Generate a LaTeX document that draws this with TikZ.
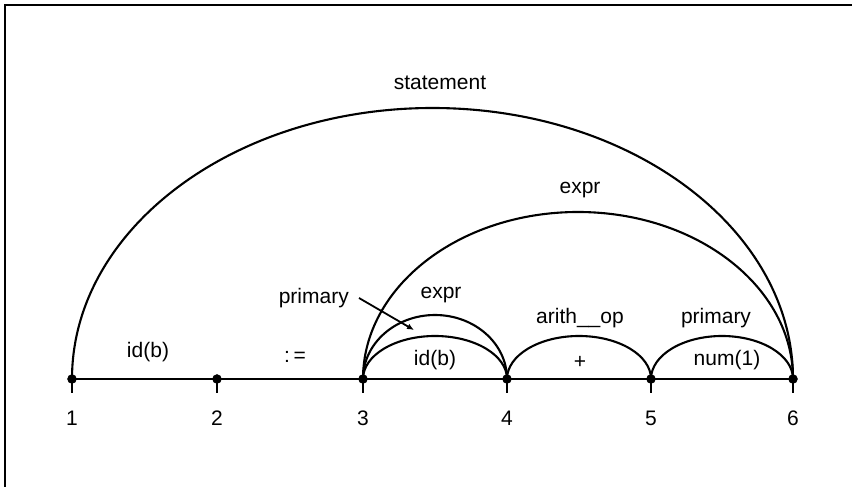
\documentclass[tikz,border=0pt]{standalone}
\usepackage{fontspec}
\setmainfont{Liberation Sans}
\usetikzlibrary{arrows.meta}
\begin{document}
\begin{tikzpicture}[x=1pt,y=1pt,
  lbl/.style={font=\fontsize{21}{24}\selectfont, inner sep=0pt},
  pt/.style={circle, fill=black, draw=black, minimum size=9pt, inner sep=0pt},
  arcline/.style={line width=2.1pt},
  tick/.style={line width=2.1pt}]
\useasboundingbox (0,0) rectangle (852,487);
% frame
\draw[line width=2pt] (5,0) -- (5,482) -- (852,482);
% points
\node[pt] (p1) at (72,108) {};
\node[pt] (p2) at (217,108) {};
\node[pt] (p3) at (363,108) {};
\node[pt] (p4) at (507,108) {};
\node[pt] (p5) at (651,108) {};
\node[pt] (p6) at (793,108) {};
\draw[arcline] (p1.center) -- (p6.center);
\foreach \i in {1,...,6} {
  \draw[tick] (p\i.center) -- ++(0,-14);
}
% numbers
\node[lbl] (n1) at (72,69) {1};
\node[lbl] (n2) at (217,69) {2};
\node[lbl] (n3) at (363,69) {3};
\node[lbl] (n4) at (507,69) {4};
\node[lbl] (n5) at (651,69) {5};
\node[lbl] (n6) at (793,69) {6};
% arcs
\draw[arcline] (p1.center) arc[start angle=180, end angle=0, x radius=360.5, y radius=271];
\draw[arcline] (p3.center) arc[start angle=180, end angle=0, x radius=215, y radius=167];
\draw[arcline] (p3.center) arc[start angle=180, end angle=0, x radius=72, y radius=64];
\draw[arcline] (p3.center) arc[start angle=180, end angle=0, x radius=72, y radius=43];
\draw[arcline] (p4.center) arc[start angle=180, end angle=0, x radius=72, y radius=43];
\draw[arcline] (p5.center) arc[start angle=180, end angle=0, x radius=71, y radius=43];
% labels
\node[lbl] (statement) at (440,404) {statement};
\node[lbl] (expr1) at (580,297) {expr};
\node[lbl] (expr2) at (441,192) {expr};
\node[lbl, anchor=east] (prim1) at (349,189) {primary};
\node[lbl] (arith) at (580,169) {arith\_\_op};
\node[lbl] (prim2) at (716,169) {primary};
\node[lbl] (idb1) at (148,135) {id(b)};
\node[lbl] (assign) at (295,130) {:\,=};
\node[lbl] (idb2) at (435,127) {id(b)};
\node[lbl] (plus) at (580,125) {+};
\node[lbl] (num) at (727,127) {num(1)};
\coordinate (tip) at (414,157);
\draw[line width=1.8pt, -{Latex[length=7pt,width=6pt]}] ([xshift=10pt]prim1.east) -- (tip);
\end{tikzpicture}
\end{document}
